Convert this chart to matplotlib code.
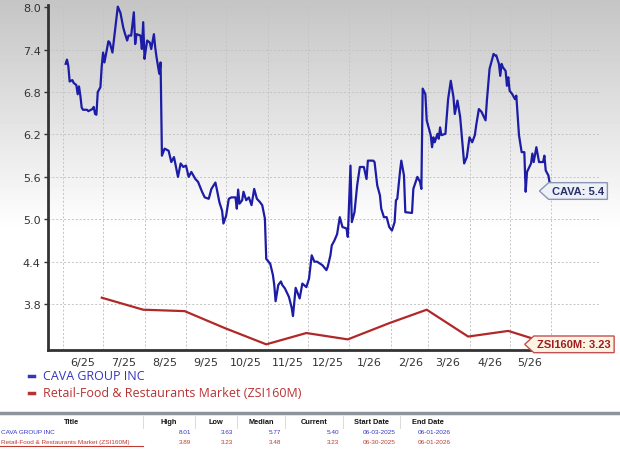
import numpy as np
import pandas as pd
import matplotlib
matplotlib.use('Agg')
import matplotlib.pyplot as plt
import matplotlib.transforms as mtransforms
from matplotlib.path import Path
from matplotlib.lines import Line2D

#%% data
cava_dates = [
    '2025-06-03', '2025-06-04', '2025-06-05', '2025-06-06', '2025-06-08', '2025-06-09', '2025-06-11',
    '2025-06-12', '2025-06-13', '2025-06-14', '2025-06-15', '2025-06-16', '2025-06-19', '2025-06-20',
    '2025-06-23', '2025-06-24', '2025-06-25', '2025-06-26', '2025-06-27', '2025-06-29', '2025-06-30',
    '2025-07-01', '2025-07-02', '2025-07-05', '2025-07-06', '2025-07-08', '2025-07-12', '2025-07-14',
    '2025-07-16', '2025-07-17', '2025-07-19', '2025-07-20', '2025-07-22', '2025-07-24', '2025-07-25',
    '2025-07-26', '2025-07-29', '2025-07-30', '2025-07-31', '2025-08-01', '2025-08-02', '2025-08-03',
    '2025-08-05', '2025-08-06', '2025-08-08', '2025-08-09', '2025-08-10', '2025-08-12', '2025-08-13',
    '2025-08-14', '2025-08-16', '2025-08-19', '2025-08-21', '2025-08-23', '2025-08-24', '2025-08-26',
    '2025-08-28', '2025-08-30', '2025-09-01', '2025-09-03', '2025-09-05', '2025-09-08', '2025-09-10',
    '2025-09-13', '2025-09-15', '2025-09-18', '2025-09-20', '2025-09-23', '2025-09-24', '2025-09-26',
    '2025-09-28', '2025-09-29', '2025-10-01', '2025-10-03', '2025-10-05', '2025-10-08', '2025-10-09',
    '2025-10-10', '2025-10-11', '2025-10-13', '2025-10-14', '2025-10-16', '2025-10-18', '2025-10-20',
    '2025-10-22', '2025-10-24', '2025-10-26', '2025-10-28', '2025-10-30', '2025-10-31', '2025-11-03',
    '2025-11-05', '2025-11-06', '2025-11-07', '2025-11-09', '2025-11-11', '2025-11-12', '2025-11-14',
    '2025-11-17', '2025-11-19', '2025-11-20', '2025-11-22', '2025-11-25', '2025-11-27', '2025-11-30',
    '2025-12-02', '2025-12-04', '2025-12-06', '2025-12-08', '2025-12-12', '2025-12-15', '2025-12-16',
    '2025-12-18', '2025-12-19', '2025-12-21', '2025-12-23', '2025-12-25', '2025-12-27', '2025-12-30',
    '2025-12-31', '2026-01-02', '2026-01-03', '2026-01-05', '2026-01-07', '2026-01-09', '2026-01-12',
    '2026-01-14', '2026-01-15', '2026-01-19', '2026-01-20', '2026-01-22', '2026-01-24', '2026-01-25',
    '2026-01-27', '2026-01-29', '2026-01-31', '2026-02-02', '2026-02-04', '2026-02-05', '2026-02-06',
    '2026-02-08', '2026-02-09', '2026-02-11', '2026-02-12', '2026-02-17', '2026-02-18', '2026-02-21',
    '2026-02-23', '2026-02-24', '2026-02-25', '2026-02-27', '2026-02-28', '2026-03-03', '2026-03-04',
    '2026-03-05', '2026-03-06', '2026-03-08', '2026-03-09', '2026-03-10', '2026-03-11', '2026-03-14',
    '2026-03-16', '2026-03-18', '2026-03-20', '2026-03-21', '2026-03-23', '2026-03-25', '2026-03-27',
    '2026-03-28', '2026-03-30', '2026-04-01', '2026-04-03', '2026-04-05', '2026-04-06', '2026-04-08',
    '2026-04-10', '2026-04-13', '2026-04-14', '2026-04-16', '2026-04-19', '2026-04-20', '2026-04-21',
    '2026-04-23', '2026-04-24', '2026-04-25', '2026-04-26', '2026-04-28', '2026-04-29', '2026-04-30',
    '2026-05-01', '2026-05-03', '2026-05-05', '2026-05-06', '2026-05-08', '2026-05-10', '2026-05-12',
    '2026-05-13', '2026-05-14', '2026-05-17', '2026-05-18', '2026-05-19', '2026-05-21', '2026-05-23',
    '2026-05-26', '2026-05-27', '2026-05-28', '2026-05-30', '2026-06-01']
cava_close = [
    7.20, 7.26, 7.17, 6.95, 6.97, 6.93, 6.90,
    6.77, 6.88, 6.75, 6.58, 6.55, 6.55, 6.53,
    6.56, 6.59, 6.49, 6.48, 6.80, 6.87, 7.17,
    7.36, 7.22, 7.52, 7.50, 7.36, 8.01, 7.92,
    7.72, 7.65, 7.53, 7.60, 7.60, 7.93, 7.48,
    7.62, 7.60, 7.41, 7.79, 7.27, 7.41, 7.53,
    7.50, 7.41, 7.62, 7.43, 7.29, 7.06, 7.22,
    5.90, 6.00, 5.97, 5.81, 5.88, 5.79, 5.60,
    5.79, 5.74, 5.76, 5.60, 5.67, 5.57, 5.53,
    5.39, 5.31, 5.29, 5.43, 5.52, 5.43, 5.24,
    5.12, 4.94, 5.05, 5.29, 5.31, 5.31, 5.15,
    5.42, 5.22, 5.27, 5.39, 5.27, 5.31, 5.20,
    5.43, 5.29, 5.25, 5.20, 5.01, 4.44, 4.37,
    4.21, 4.07, 3.84, 4.07, 4.12, 4.07, 4.02,
    3.90, 3.75, 3.63, 4.03, 3.88, 4.09, 4.04,
    4.16, 4.49, 4.40, 4.40, 4.35, 4.28, 4.33,
    4.49, 4.63, 4.70, 4.79, 5.03, 4.89, 4.87,
    4.75, 5.76, 4.96, 5.10, 5.48, 5.74, 5.74,
    5.57, 5.83, 5.83, 5.81, 5.48, 5.34, 5.15,
    5.03, 5.03, 4.89, 4.84, 4.96, 5.27, 5.29,
    5.67, 5.83, 5.62, 5.10, 5.09, 5.43, 5.60,
    5.53, 5.43, 6.85, 6.77, 6.40, 6.19, 6.02,
    6.16, 6.09, 6.21, 6.14, 6.30, 6.19, 6.21,
    6.70, 6.96, 6.73, 6.49, 6.68, 6.45, 6.00,
    5.79, 5.88, 6.16, 6.09, 6.19, 6.33, 6.56,
    6.52, 6.40, 6.68, 7.13, 7.34, 7.32, 7.32,
    7.20, 7.03, 7.20, 7.15, 7.10, 6.89, 7.01,
    6.82, 6.77, 6.70, 6.75, 6.19, 5.95, 5.95,
    5.39, 5.67, 5.79, 5.93, 5.81, 6.02, 5.81,
    5.81, 5.90, 5.69, 5.62, 5.40]

zsi_dates = ['2025-06-30', '2025-07-31', '2025-08-31', '2025-09-30', '2025-10-31', '2025-11-30',
             '2025-12-31', '2026-01-31', '2026-02-28', '2026-03-31', '2026-04-30', '2026-06-01']
zsi_values = [3.89, 3.72, 3.70, 3.46, 3.23, 3.39, 3.30, 3.53, 3.72, 3.34, 3.42, 3.23]

y_ticks = [3.8, 4.4, 5.0, 5.6, 6.2, 6.8, 7.4, 8.0]
x_labels = ['6/25', '7/25', '8/25', '9/25', '10/25', '11/25', '12/25',
            '1/26', '2/26', '3/26', '4/26', '5/26']

table_cols = ['Title', 'High', 'Low', 'Median', 'Current', 'Start Date', 'End Date']
table_cava = ['CAVA GROUP INC', '8.01', '3.63', '5.77', '5.40', '06-03-2025', '06-01-2026']
table_zsi = ['Retail-Food & Restaurants Market (ZSI160M)', '3.89', '3.23', '3.48', '3.23',
             '06-30-2025', '06-01-2026']

blue = '#1c1ca6'
red = '#b02828'
W, H = 620, 452

#%% figure + gradient background
fig = plt.figure(figsize=(W/100, H/100), dpi=100)
bg = fig.add_axes([0, 0, 1, 1], zorder=-10)
rows = np.arange(H)
grad = np.clip(0.77 + 0.23*rows/230., 0, 1)
bg.imshow(grad[:, None], aspect='auto', cmap='gray', vmin=0, vmax=1, extent=[0, 1, 0, 1])
bg.set_axis_off()

ax = fig.add_axes([47.7/W, 1-350.7/H, (600-47.7)/W, (350.7-6.2)/H])
ax.set_facecolor('none')

ax.plot(pd.to_datetime(cava_dates), cava_close, color=blue, lw=1.6, zorder=3)
ax.plot(pd.to_datetime(zsi_dates), zsi_values, color=red, lw=1.6, zorder=2)

ax.set_xlim(pd.Timestamp('2025-05-20 14:00'), pd.Timestamp('2026-07-07 14:00'))
ax.set_ylim(3.154, 8.03)

month_starts = pd.date_range('2025-06-01', '2026-06-01', freq='MS')
ax.set_xticks(month_starts, minor=True)
ax.set_xticks(month_starts[:len(x_labels)] + pd.Timedelta(days=15))
ax.set_xticklabels(x_labels)
ax.set_yticks(y_ticks)
ax.set_yticklabels(['%.1f' % v for v in y_ticks])

ax.grid(which='minor', axis='x', ls=(0, (2, 2)), color='#c4c4c4', lw=0.7)
ax.grid(which='major', axis='y', ls=(0, (2, 2)), color='#c4c4c4', lw=0.7)
ax.tick_params(axis='x', which='both', length=0, pad=5, labelsize=8, labelcolor='#333333')
ax.tick_params(axis='y', length=3, width=1, color='#333333', labelsize=8,
               labelcolor='#333333', pad=2)
for s in ['top', 'right']:
    ax.spines[s].set_visible(False)
for s in ['left', 'bottom']:
    ax.spines[s].set_color('#333333')
    ax.spines[s].set_linewidth(2)


#%% tag labels at the right end
def tag_box(x0, y0, width, height, mutation_size):
    pad = 0.3*mutation_size
    x0, y0 = x0 - pad, y0 - pad
    w, h = width + 2*pad, height + 2*pad
    tip = 0.55*h
    verts = [(x0 - tip, y0 + h/2), (x0, y0), (x0 + w, y0), (x0 + w, y0 + h),
             (x0, y0 + h), (x0 - tip, y0 + h/2), (x0 - tip, y0 + h/2)]
    return Path(verts, closed=True)


trans = mtransforms.blended_transform_factory(fig.transFigure, ax.transData)
ax.text(578/W, cava_close[-1], 'CAVA: 5.4', transform=trans, ha='center', va='center',
        fontsize=8, fontweight='bold', family='Liberation Sans', color='#26306a',
        bbox=dict(boxstyle=tag_box, fc='#edf0f7', ec='#8a96b4', lw=1), zorder=5)
ax.text(574/W, zsi_values[-1], 'ZSI160M: 3.23', transform=trans, ha='center', va='center',
        fontsize=8, fontweight='bold', family='Liberation Sans', color='#9c1e1e',
        bbox=dict(boxstyle=tag_box, fc='#fdf3e3', ec='#c25050', lw=1), zorder=5)

#%% legend
for i, (name, col) in enumerate([('CAVA GROUP INC', '#3535c0'),
                                  ('Retail-Food & Restaurants Market (ZSI160M)', '#b83232')]):
    yy = 1 - (377 + 17*i)/H
    fig.add_artist(Line2D([29/W, 34/W], [yy, yy], color=col, lw=2.5))
    fig.text(43/W, yy, name, color=col, fontsize=9, family='Open Sans', va='center')

#%% summary table
fig.add_artist(Line2D([0, 1], [1-414/H, 1-414/H], color='#8d949c', lw=2.5))
edges = [0, 143, 195, 237, 285, 343, 400, 455]
for j, name in enumerate(table_cols):
    cx = (edges[j] + edges[j+1])/2
    fig.text(cx/W, 1-423/H, name, ha='center', va='center', fontsize=5.3,
             fontweight='bold', family='Liberation Sans', color='#111111')
    if j > 0:
        fig.add_artist(Line2D([edges[j]/W, edges[j]/W], [1-417/H, 1-429/H],
                              color='#d4d4d4', lw=0.6))
for i, (row, col) in enumerate([(table_cava, '#3434c8'), (table_zsi, '#c03a30')]):
    yy = 1 - (433 + 10*i)/H
    for j, val in enumerate(row):
        if j == 0:
            fig.text(1/W, yy, val, ha='left', va='center', fontsize=4.6,
                     family='Liberation Sans', color=col)
        else:
            fig.text((edges[j+1]-4)/W, yy, val, ha='right', va='center', fontsize=4.6,
                     family='Liberation Sans', color=col)
fig.add_artist(Line2D([0, 143/W], [1-447/H, 1-447/H], color='#c03a30', lw=0.8))

fig.savefig('out.png', dpi=100)
